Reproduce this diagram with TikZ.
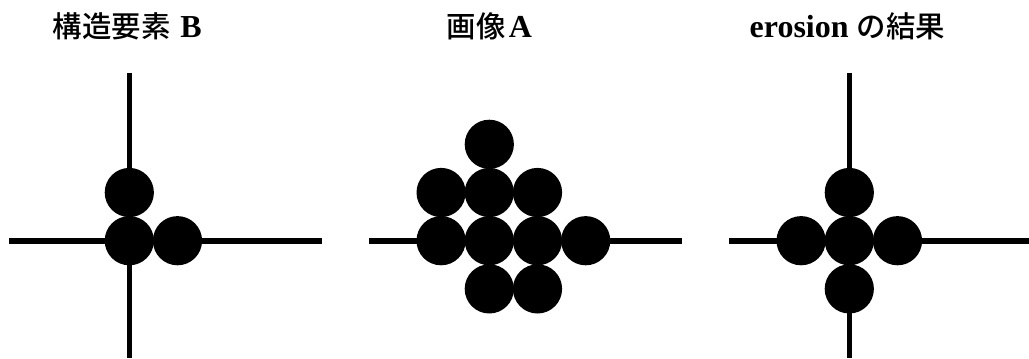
\documentclass[tikz,border=0pt]{standalone}
\usepackage{fontspec}
\setmainfont{Liberation Serif}
\newfontfamily\jpfont[Scale=0.92, UprightFont={* Medium}, BoldFont={* Medium}]{Noto Sans CJK JP}

\begin{document}
\begin{tikzpicture}[x=0.75pt, y=0.75pt]
  \tikzset{
    axisline/.style={line width=4.2pt},
    paneltitle/.style={anchor=base, font=\fontsize{24}{26}\selectfont\bfseries},
  }
  \def\gs{48.2}
  \useasboundingbox (0,-117.3) rectangle (1029,240.7);

  % Structuring element B
  \begin{scope}[shift={(129.3,0)}]
    \node[paneltitle] (titleB) at (-2,203.7) {{\jpfont 構造要素}\hspace{0.3em}B};
    \draw[axisline] (-120,0) -- (192.4,0);
    \draw[axisline] (0,168) -- (0,-117.3);
    \foreach \i/\j in {0/0, 0/1, 1/0}
      \fill ({\i*\gs},{\j*\gs}) circle[radius=24.6];
  \end{scope}

  % Image A
  \begin{scope}[shift={(489.3,0)}]
    \node[paneltitle] (titleA) at (0,203.7) {{\jpfont 画像}\hspace{0.1em}A};
    \draw[axisline] (-120,0) -- (192.4,0);
    \foreach \i/\j in {0/2, -1/1, 0/1, 1/1, -1/0, 0/0, 1/0, 2/0, 0/-1, 1/-1}
      \fill ({\i*\gs},{\j*\gs}) circle[radius=24.6];
  \end{scope}

  % Erosion result
  \begin{scope}[shift={(849.3,0)}]
    \node[paneltitle] (titleE) at (-2,203.7) {erosion {\jpfont の結果}};
    \draw[axisline] (-120,0) -- (179.7,0);
    \draw[axisline] (0,168) -- (0,-117.3);
    \foreach \i/\j in {0/1, -1/0, 0/0, 1/0, 0/-1}
      \fill ({\i*\gs},{\j*\gs}) circle[radius=24.6];
  \end{scope}
\end{tikzpicture}
\end{document}
